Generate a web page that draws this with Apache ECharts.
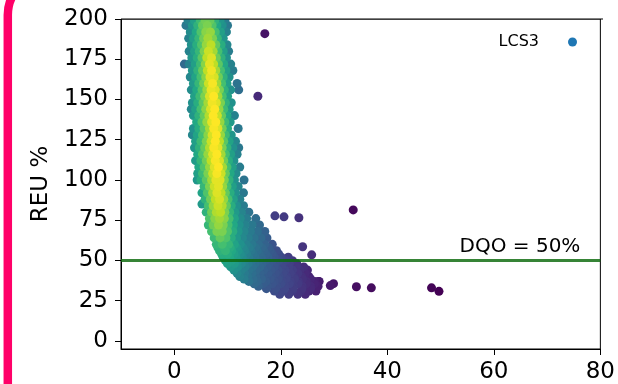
<!DOCTYPE html>
<html>
<head>
<meta charset="utf-8">
<script src="https://cdn.jsdelivr.net/npm/echarts@6/dist/echarts.min.js"></script>
<style>
  html, body { margin: 0; padding: 0; background: #fff; }
  #chart { width: 618px; height: 384px; }
</style>
</head>
<body>
<div id="chart"></div>
<script>
// Axis ranges and tick labels
const xRange = [-10, 80];
const yRange = [-5, 200];
const xTicks = [0, 20, 40, 60, 80];
const yTicks = [0, 25, 50, 75, 100, 125, 150, 175, 200];
const yAxisName = 'REU %';
const seriesName = 'LCS3';
const dqoLevel = 50;

// Measurements: rows of [y, [x, density, x, density, ...]]
// (density is the normalised point density used for colouring)
const upperRows = [
  [199, [2.6,.44, 3.8,.56, 4.9,.68, 5.8,.78, 6.7,.76, 7.6,.64, 8.6,.52, 9.5,.42]],
  [196, [2.2,.4, 3.4,.52, 4.4,.64, 5.3,.76, 6.2,.8, 7.1,.72, 8.0,.6, 9.0,.5, 10.0,.4]],
  [192, [3.0,.48, 4.1,.6, 5.0,.72, 5.9,.82, 6.8,.84, 7.7,.7, 8.7,.56, 9.8,.44]],
  [188, [2.7,.44, 3.6,.55, 4.6,.66, 5.5,.78, 6.3,.86, 7.2,.8, 8.1,.66, 9.2,.52]],
  [184, [3.2,.5, 4.2,.62, 5.1,.72, 6.0,.84, 6.9,.9, 7.8,.76, 8.8,.62, 9.9,.46]],
  [180, [2.8,.44, 3.8,.56, 4.7,.66, 5.6,.8, 6.4,.92, 7.3,.86, 8.2,.7, 9.2,.56, 10.2,.42]],
  [176, [3.3,.52, 4.3,.62, 5.2,.74, 6.1,.9, 7.0,.95, 7.9,.78, 8.8,.64, 9.8,.5]],
  [172, [1.9,.34, 2.8,.44, 3.9,.56, 4.9,.68, 5.8,.82, 6.6,.96, 7.4,.9, 8.3,.74, 9.3,.6, 10.6,.44]],
  [168, [3.4,.52, 4.4,.64, 5.3,.76, 6.2,.9, 7.0,.98, 7.8,.86, 8.7,.7, 9.7,.56, 11.0,.42]],
  [164, [3.0,.46, 4.0,.58, 5.0,.7, 5.9,.82, 6.7,.96, 7.5,.94, 8.3,.78, 9.2,.64, 10.3,.5]],
  [160, [3.6,.54, 4.6,.66, 5.5,.78, 6.4,.92, 7.2,.99, 8.0,.86, 8.9,.7, 9.9,.56, 11.8,.38]],
  [156, [3.2,.48, 4.2,.6, 5.2,.72, 6.1,.84, 6.9,.97, 7.7,.95, 8.5,.8, 9.4,.64, 10.6,.5, 12.1,.36]],
  [152, [3.8,.56, 4.8,.68, 5.7,.8, 6.6,.94, 7.4,1.0, 8.2,.86, 9.0,.7, 10.0,.56]],
  [148, [3.4,.5, 4.4,.62, 5.4,.74, 6.3,.86, 7.1,.98, 7.9,.95, 8.7,.8, 9.6,.64, 10.7,.5]],
  [144, [3.2,.46, 4.0,.56, 5.0,.7, 5.9,.82, 6.8,.94, 7.6,1.0, 8.4,.84, 9.3,.68, 10.3,.54]],
  [140, [3.6,.52, 4.6,.64, 5.6,.76, 6.5,.88, 7.3,1.0, 8.1,.92, 8.9,.76, 9.9,.6, 11.3,.44]],
  [136, [4.2,.6, 5.2,.72, 6.1,.84, 7.0,.96, 7.8,1.0, 8.6,.84, 9.5,.68, 10.5,.54]],
  [132, [3.6,.5, 4.6,.62, 5.6,.74, 6.6,.86, 7.4,.99, 8.2,.95, 9.0,.78, 10.0,.62, 12.0,.4]],
  [128, [3.4,.46, 4.3,.58, 5.3,.7, 6.3,.82, 7.1,.94, 7.9,1.0, 8.7,.84, 9.6,.68, 10.7,.52]],
  [124, [4.0,.56, 5.0,.68, 6.0,.8, 6.9,.92, 7.7,1.0, 8.5,.9, 9.3,.74, 10.3,.58, 11.5,.46]],
  [120, [3.8,.52, 4.7,.64, 5.7,.76, 6.6,.88, 7.4,.99, 8.2,.96, 9.0,.8, 9.9,.64, 11.0,.5, 12.1,.4]],
  [116, [4.4,.6, 5.3,.72, 6.3,.84, 7.2,.95, 8.0,1.0, 8.8,.86, 9.6,.7, 10.6,.56, 11.8,.44]],
  [112, [4.0,.54, 5.0,.66, 6.0,.78, 6.9,.9, 7.7,.99, 8.5,.94, 9.3,.78, 10.2,.62, 11.2,.5]],
  [108, [4.6,.6, 5.6,.72, 6.6,.84, 7.5,.95, 8.3,1.0, 9.1,.86, 9.9,.7, 10.9,.56, 12.3,.42]],
  [104, [4.4,.56, 5.3,.68, 6.3,.8, 7.2,.92, 8.0,.99, 8.8,.92, 9.6,.76, 10.5,.6, 11.6,.48]],
  [100, [4.3,.52, 5.0,.62, 6.0,.74, 7.0,.86, 7.8,.96, 8.6,.95, 9.4,.8, 10.3,.64, 11.3,.5, 13.1,.38]]
];

const lowerRows = [
  [96, [5.6,.66, 6.6,.8, 7.5,.92, 8.3,.96, 9.1,.84, 9.9,.7, 10.9,.56, 12.0,.46]],
  [92, [5.2,.58, 6.2,.72, 7.2,.86, 8.0,.95, 8.8,.9, 9.6,.76, 10.5,.62, 11.5,.5, 13.0,.4]],
  [88, [5.8,.64, 6.8,.78, 7.7,.9, 8.5,.94, 9.3,.84, 10.1,.7, 11.1,.56, 12.3,.44]],
  [85, [5.2,.54]],
  [84, [6.4,.7, 7.3,.84, 8.2,.92, 9.0,.88, 9.8,.76, 10.7,.62, 11.7,.5, 13.0,.42]],
  [80, [6.0,.64, 7.0,.78, 7.9,.88, 8.7,.9, 9.5,.8, 10.4,.66, 11.4,.54, 12.6,.45, 14.0,.38]],
  [76, [6.6,.72, 7.6,.82, 8.5,.86, 9.4,.82, 10.3,.7, 11.3,.58, 12.4,.48, 13.6,.42, 15.3,.36]],
  [72, [6.4,.66, 7.3,.78, 8.3,.84, 9.2,.8, 10.1,.7, 11.1,.6, 12.2,.5, 13.3,.44, 14.6,.4, 16.0,.34]],
  [68, [7.0,.7, 8.0,.8, 9.0,.8, 10.0,.72, 11.0,.62, 12.0,.52, 13.1,.46, 14.3,.41, 15.6,.36, 17.0,.31]],
  [64, [7.5,.68, 8.6,.76, 9.7,.72, 10.7,.62, 11.7,.53, 12.8,.47, 13.9,.42, 15.0,.38, 16.3,.34, 17.4,.29]],
  [60, [7.9,.66, 9.0,.7, 10.2,.66, 11.3,.58, 12.4,.5, 13.5,.44, 14.6,.4, 15.8,.35, 17.0,.31, 18.4,.26]],
  [58, [8.2,.64, 9.3,.66, 10.5,.62, 11.7,.54, 12.9,.47, 14.1,.42, 15.3,.37, 16.5,.33, 17.7,.29]],
  [56, [8.5,.64, 9.6,.66, 10.8,.6, 12.0,.52, 13.2,.46, 14.4,.4, 15.6,.36, 16.8,.32, 18.0,.28, 19.2,.24]],
  [54, [8.9,.62, 10.0,.62, 11.2,.56, 12.4,.49, 13.6,.43, 14.8,.38, 16.0,.34, 17.2,.31, 18.4,.27, 19.6,.23]],
  [52, [9.2,.6, 10.4,.6, 11.6,.54, 12.8,.47, 14.0,.41, 15.2,.37, 16.4,.33, 17.6,.3, 18.8,.26, 20.1,.22, 21.4,.18]],
  [50, [9.6,.58, 10.8,.56, 12.0,.5, 13.3,.44, 14.6,.38, 15.9,.34, 17.2,.3, 18.4,.27, 19.7,.24, 21.0,.2]],
  [48, [10.0,.56, 11.3,.54, 12.6,.47, 13.9,.41, 15.2,.36, 16.5,.32, 17.8,.28, 19.0,.25, 20.3,.22, 21.6,.19, 23.0,.15]],
  [46, [10.6,.53, 11.9,.49, 13.3,.43, 14.7,.37, 16.1,.33, 17.5,.29, 18.8,.26, 20.2,.22, 21.5,.19, 22.9,.16, 24.3,.13]],
  [44, [11.2,.5, 12.6,.44, 14.0,.38, 15.4,.34, 16.8,.3, 18.2,.27, 19.5,.24, 20.8,.21, 22.2,.18, 23.6,.14, 25.0,.11]],
  [42, [11.8,.46, 13.2,.41, 14.6,.36, 16.1,.31, 17.6,.28, 19.0,.25, 20.4,.22, 21.8,.19, 23.2,.16, 24.6,.12]],
  [40, [12.3,.44, 13.8,.38, 15.3,.33, 16.8,.29, 18.3,.26, 19.7,.23, 21.1,.2, 22.5,.17, 23.9,.14, 25.3,.1]],
  [38.5, [13.1,.42, 14.8,.35, 16.4,.31, 18.0,.27, 19.5,.24, 21.0,.21, 22.6,.18, 24.1,.14, 25.6,.11]],
  [37, [14.0,.38, 15.6,.33, 17.2,.29, 18.8,.25, 20.3,.22, 21.8,.19, 23.3,.16, 24.8,.13, 26.4,.09, 27.2,.07]],
  [35.5, [15.0,.34, 16.7,.29, 18.4,.26, 20.0,.23, 21.6,.2, 23.2,.17, 24.8,.13, 26.3,.1]],
  [34, [15.8,.31, 17.5,.27, 19.2,.24, 20.8,.21, 22.4,.18, 24.0,.15, 25.6,.12, 27.0,.09]],
  [32.5, [17.3,.27, 19.0,.24, 20.7,.21, 22.3,.18, 24.0,.15, 25.6,.12]],
  [31, [18.8,.23, 20.5,.2, 22.2,.17, 23.8,.14, 25.3,.11, 26.6,.09]],
  [29, [19.8,.21, 21.5,.18, 23.2,.15, 24.6,.12]]
];

// Isolated readings as [x, y, density]
const outliers = [
  [17.0, 190.9, .05], [15.7, 152.0, .12],
  [18.9, 77.7, .18], [20.6, 77.1, .17], [23.4, 76.5, .14], [33.6, 81.4, .02],
  [24.1, 58.5, .15], [25.8, 53.5, .13], [22.2, 49.8, .16],
  [27.1, 37.0, .08], [29.3, 34.4, .07], [29.9, 35.6, .06],
  [34.2, 33.7, .04], [37.0, 33.0, .03], [48.3, 33.0, .01], [49.7, 30.8, .0]
];

const viridis = ['#440154', '#482475', '#414487', '#355f8d', '#2a788e', '#21918c',
                 '#22a884', '#44bf70', '#7ad151', '#bddf26', '#fde725'];

// Flatten rows into [x, y, density] and draw densest points last
const points = [];
[...upperRows, ...lowerRows].forEach(([y, xs]) => {
  for (let i = 0; i < xs.length; i += 2) points.push([xs[i], y, xs[i + 1]]);
});
outliers.forEach(p => points.push(p));
points.sort((a, b) => a[2] - b[2]);

const FONT = 'DejaVu Sans';
const layout = { left: 121, right: 15, top: 19, bottom: 33 };

const chart = echarts.init(document.getElementById('chart'), null, { renderer: 'canvas' });

const axisCommon = {
  axisLine: { show: true, onZero: false, lineStyle: { color: '#000', width: 1 } },
  axisTick: { show: true, inside: false, length: 6, lineStyle: { color: '#000', width: 1 } },
  splitLine: { show: false },
  axisLabel: { color: '#000', fontSize: 23, fontFamily: FONT }
};

chart.setOption({
  animation: false,
  backgroundColor: '#fff',
  grid: { left: layout.left, right: layout.right, top: layout.top, bottom: layout.bottom,
          show: true, borderColor: '#000', borderWidth: 1, backgroundColor: 'transparent' },
  xAxis: {
    type: 'value', min: xRange[0], max: xRange[1],
    ...axisCommon,
    axisTick: { ...axisCommon.axisTick, customValues: xTicks },
    axisLabel: { ...axisCommon.axisLabel, margin: 12, customValues: xTicks }
  },
  yAxis: {
    type: 'value', min: yRange[0], max: yRange[1],
    name: yAxisName, nameLocation: 'middle', nameGap: 68,
    nameTextStyle: { color: '#000', fontSize: 23, fontFamily: FONT },
    ...axisCommon,
    axisTick: { ...axisCommon.axisTick, customValues: yTicks },
    axisLabel: { ...axisCommon.axisLabel, margin: 13, customValues: yTicks }
  },
  visualMap: {
    show: false, type: 'continuous', min: 0, max: 1, dimension: 2, seriesIndex: 0,
    inRange: { color: viridis }
  },
  legend: {
    data: [{ name: seriesName, itemStyle: { color: '#1f77b4' } }],
    right: 41, top: 34, align: 'right', icon: 'circle', padding: 0,
    itemWidth: 9, itemHeight: 9,
    textStyle: { color: '#000', fontSize: 16, fontFamily: FONT, padding: [0, 24, 0, 0] }
  },
  series: [
    {
      name: seriesName, type: 'scatter', data: points, symbolSize: 9,
      itemStyle: { opacity: 1 }, z: 2, silent: true
    },
    {
      name: 'DQO', type: 'line', data: [[xRange[0], dqoLevel], [xRange[1], dqoLevel]],
      symbol: 'none', silent: true, z: 5,
      lineStyle: { color: 'rgba(10,105,10,0.82)', width: 3 }
    }
  ]
});

// Overlay: frame edge clipping, DQO label and the page border
const W = 618;
const gridRight = W - layout.right;
const lineEnd = chart.convertToPixel({ gridIndex: 0 }, [xRange[1], dqoLevel]);
chart.setOption({
  graphic: [
    { type: 'rect', z: 100, silent: true,
      shape: { x: layout.left, y: 0, width: gridRight - layout.left, height: layout.top },
      style: { fill: '#fff' } },
    { type: 'line', z: 101, silent: true,
      shape: { x1: layout.left, y1: layout.top, x2: gridRight, y2: layout.top },
      style: { stroke: '#000', lineWidth: 1 } },
    { type: 'text', z: 101, silent: true,
      x: lineEnd[0] - 20, y: lineEnd[1] - 14,
      style: { text: 'DQO = ' + dqoLevel + '%', fill: '#000', fontSize: 20, fontFamily: FONT,
               align: 'right', verticalAlign: 'middle' } },
    { type: 'rect', z: 102, silent: true,
      shape: { x: 7.8, y: -25, width: 1200, height: 1200, r: 40 },
      style: { fill: 'none', stroke: '#ff0068', lineWidth: 8.5 } }
  ]
});
</script>
</body>
</html>
